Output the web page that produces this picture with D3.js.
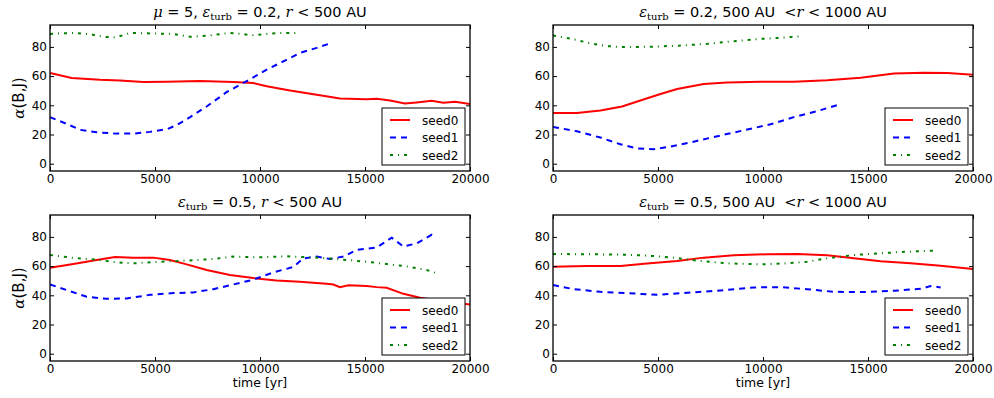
<!DOCTYPE html>
<html>
<head>
<meta charset="utf-8">
<script src="https://cdn.jsdelivr.net/npm/d3@7"></script>
<style>
  html, body { margin: 0; padding: 0; background: #fff; }
  svg { display: block; }
  text { font-family: "DejaVu Sans", sans-serif; fill: #000; white-space: pre; }
</style>
</head>
<body>
<svg id="chart" width="994" height="398"></svg>
<script>
// ---- data (time [yr], alpha(B,J) [deg]) ----
const seriesNames = ["seed0", "seed1", "seed2"];
const xTicks = [0, 5000, 10000, 15000, 20000];
const yTicks = [0, 20, 40, 60, 80];

// panel 1: mu=5, eps_turb=0.2, r<500 AU
const p1_seed0 = [[0,62.1],[1030,58.7],[2380,57.5],[3330,57],[4440,56],[5560,56.2],[7140,56.6],[8730,56],[9680,55.2],[10320,53],[11430,50.2],[12700,47.2],[13810,44.7],[15080,44.2],[15560,44.5],[16190,43.3],[16900,41.3],[17460,42],[18170,43.1],[18730,41.7],[19290,42.4],[20000,40.8]];
const p1_seed1 = [[0,31.9],[790,27.3],[1430,23.2],[2220,21.5],[3170,20.6],[3970,20.6],[4760,21.8],[5560,23.6],[6030,26.4],[6670,31.9],[7460,39.2],[8410,49],[9370,56.6],[10320,64.4],[11110,70.1],[11900,75.9],[12700,79.3],[13410,82.8]];
const p1_seed2 = [[0,88.9],[1110,89.6],[1900,88.7],[2540,86.9],[3170,86.6],[3810,89.6],[4920,89.2],[5870,88.9],[6670,86.9],[7460,87.6],[8570,89.6],[9680,88],[10790,89.4],[11750,89.6]];

// panel 2: eps_turb=0.2, 500 AU < r < 1000 AU
const p2_seed0 = [[0,34.8],[1140,34.8],[2260,36.4],[3290,39.2],[4160,43.3],[5120,47.7],[5910,51.1],[7180,54.6],[8290,55.7],[9880,56.2],[11470,56.2],[13060,57.1],[14650,58.9],[16240,61.7],[17670,62.3],[18780,62.1],[20000,61]];
const p2_seed1 = [[0,25.2],[1140,22.2],[2260,17.9],[3210,13.3],[4000,10.5],[4800,9.9],[5590,11.7],[6700,15.1],[7970,19.3],[9090,22.9],[10360,27],[11470,31.9],[12580,36],[13530,40.1]];
const p2_seed2 = [[0,87.8],[830,85.7],[1780,82.5],[2570,80.5],[3530,79.8],[4800,80.2],[6070,80.9],[7340,82.1],[8610,83.9],[9880,85.5],[10830,86.2],[11780,87.3]];

// panel 3: eps_turb=0.5, r<500 AU
const p3_seed0 = [[0,58.9],[1110,61.4],[2220,64.2],[3100,66.2],[3970,65.8],[4920,65.8],[5710,64.2],[6510,61.2],[7460,57.3],[8570,53.9],[9680,51.8],[10790,50.2],[11900,49.3],[13170,47.9],[13490,47.4],[13810,45.6],[14210,46.8],[15080,46.3],[15560,45.6],[16030,45.2],[16830,41],[17620,38.3],[18250,36.9],[18890,35.5],[20000,33.7]];
const p3_seed1 = [[0,47.4],[790,43.6],[1750,39],[2700,37.6],[3650,37.8],[4760,40.3],[5870,41.5],[6830,42],[7780,44.2],[8730,47.4],[9680,50.7],[10630,55.7],[11590,59.4],[12060,65.3],[12700,66.5],[13330,64.9],[13970,66.5],[14600,71.1],[15560,72.7],[16270,79.5],[16830,73.4],[17460,75.6],[18170,81.4],[18330,79.1]];
const p3_seed2 = [[0,67.6],[1110,65.6],[2220,64.4],[3170,62.6],[3970,61.9],[5240,63],[6510,63.7],[7780,64.9],[8730,66.5],[10000,66],[11270,66.7],[12540,66],[13810,64.6],[15080,63],[16030,61.4],[16980,59.8],[17940,57.3],[18330,55.5]];

// panel 4: eps_turb=0.5, 500 AU < r < 1000 AU
const p4_seed0 = [[0,59.6],[1620,60.1],[3210,60.1],[4480,61.7],[5910,63.5],[7180,65.8],[8610,67.4],[10200,68.1],[11630,68.3],[13060,67.4],[14330,65.3],[15600,63.3],[17030,61.9],[18460,60.3],[20000,58]];
const p4_seed1 = [[0,47],[980,44.2],[2260,42.4],[3530,41.5],[4960,40.3],[6390,41.7],[7970,43.3],[9560,45.4],[10830,45.6],[12100,44.2],[13370,42.4],[14650,42.2],[16240,43.1],[17510,44.5],[17980,46.3],[18460,45.4]];
const p4_seed2 = [[0,68.3],[1620,68.1],[3210,67.9],[4480,67.2],[5750,65.8],[7020,63.5],[8290,61.9],[9880,61.2],[11150,61.9],[12100,63],[13060,65.3],[14330,67.6],[15600,68.8],[16870,69.9],[18140,70.6]];

// ---- styles ----
const colors = ["#ff0000", "#0000ff", "#008000"];
const dashes = [null, "6,5", "3,5,1,5"];

// ---- layout ----
const panels = [
  { x0: 50,  x1: 470, y0: 25,  y1: 171, data: [p1_seed0, p1_seed1, p1_seed2], ylabel: true,  xlabel: false,
    title: [["μ","mi"],[" = 5, ",""],["ε","mi"],["turb","sub"],[" = 0.2, ",""],["r","mi"],[" < 500 AU",""]] },
  { x0: 553, x1: 973, y0: 25,  y1: 171, data: [p2_seed0, p2_seed1, p2_seed2], ylabel: false, xlabel: false,
    title: [["ε","mi"],["turb","sub"],[" = 0.2, 500 AU\u00a0\u00a0<",""],["r","mi"],[" < 1000 AU",""]] },
  { x0: 50,  x1: 470, y0: 215, y1: 361, data: [p3_seed0, p3_seed1, p3_seed2], ylabel: true,  xlabel: true,
    title: [["ε","mi"],["turb","sub"],[" = 0.5, ",""],["r","mi"],[" < 500 AU",""]] },
  { x0: 553, x1: 973, y0: 215, y1: 361, data: [p4_seed0, p4_seed1, p4_seed2], ylabel: false, xlabel: true,
    title: [["ε","mi"],["turb","sub"],[" = 0.5, 500 AU\u00a0\u00a0<",""],["r","mi"],[" < 1000 AU",""]] }
];

const svg = d3.select("#chart");

panels.forEach((p, i) => {
  const x = d3.scaleLinear().domain([0, 20000]).range([p.x0, p.x1]);
  const y = d3.scaleLinear().domain([-5, 95]).range([p.y1, p.y0]);
  const g = svg.append("g");

  const clipId = "clip" + i;
  svg.append("clipPath").attr("id", clipId).append("rect")
    .attr("x", p.x0).attr("y", p.y0).attr("width", p.x1 - p.x0).attr("height", p.y1 - p.y0);

  // lines
  const line = d3.line().x(d => x(d[0])).y(d => y(d[1]));
  p.data.forEach((s, k) => {
    g.append("path").datum(s)
      .attr("clip-path", `url(#${clipId})`)
      .attr("d", line)
      .attr("fill", "none")
      .attr("stroke", colors[k])
      .attr("stroke-width", 2)
      .attr("stroke-dasharray", dashes[k]);
  });

  // axes with inward ticks
  const fmt = d3.format("d");
  const bottom = d3.axisBottom(x).tickValues(xTicks).tickFormat(fmt).tickSizeInner(-4).tickSizeOuter(0).tickPadding(3);
  const top = d3.axisTop(x).tickValues(xTicks).tickFormat("").tickSizeInner(-4).tickSizeOuter(0);
  const left = d3.axisLeft(y).tickValues(yTicks).tickFormat(fmt).tickSizeInner(-4).tickSizeOuter(0).tickPadding(3);
  const right = d3.axisRight(y).tickValues(yTicks).tickFormat("").tickSizeInner(-4).tickSizeOuter(0);

  [[bottom, `translate(0,${p.y1})`], [top, `translate(0,${p.y0})`],
   [left, `translate(${p.x0},0)`], [right, `translate(${p.x1},0)`]].forEach(([ax, tr]) => {
    const a = g.append("g").attr("transform", tr).call(ax);
    a.select(".domain").remove();
    a.selectAll("line").attr("stroke", "#000").attr("stroke-width", 1);
    a.selectAll("text").attr("font-size", 12).attr("font-family", "DejaVu Sans").attr("fill", "#000");
  });

  // frame
  g.append("rect").attr("x", p.x0).attr("y", p.y0)
    .attr("width", p.x1 - p.x0).attr("height", p.y1 - p.y0)
    .attr("fill", "none").attr("stroke", "#000").attr("stroke-width", 1.3);

  // title
  const t = g.append("text")
    .attr("x", (p.x0 + p.x1) / 2).attr("y", p.y0 - 8)
    .attr("text-anchor", "middle").attr("font-size", 14.5);
  let prevKind = "";
  p.title.forEach(([s, kind]) => {
    const ts = t.append("tspan").text(s);
    if (kind === "mi") ts.attr("font-family", "DejaVu Serif").attr("font-style", "italic");
    if (kind === "sub") ts.attr("font-family", "DejaVu Serif").attr("font-size", 10).attr("dy", 3);
    if (kind !== "sub" && prevKind === "sub") ts.attr("dy", -3);
    prevKind = kind;
  });

  // y label
  if (p.ylabel) {
    const yl = g.append("text")
      .attr("transform", `translate(${p.x0 - 26},${(p.y0 + p.y1) / 2}) rotate(-90)`)
      .attr("text-anchor", "middle").attr("font-size", 15);
    yl.append("tspan").text("α").attr("font-family", "DejaVu Serif").attr("font-style", "italic");
    yl.append("tspan").text("(B,J)");
  }
  // x label
  if (p.xlabel) {
    g.append("text").attr("x", (p.x0 + p.x1) / 2).attr("y", p.y1 + 26)
      .attr("text-anchor", "middle").attr("font-size", 12.5).text("time [yr]");
  }

  // legend
  const lw = 83, lh = 57;
  const lx = p.x1 - 5 - lw, ly = p.y1 - 6 - lh;
  const lg = g.append("g");
  lg.append("rect").attr("x", lx).attr("y", ly).attr("width", lw).attr("height", lh)
    .attr("fill", "#fff").attr("stroke", "#000").attr("stroke-width", 1);
  seriesNames.forEach((name, k) => {
    const yy = ly + 12 + k * 17.5;
    lg.append("line").attr("x1", lx + 8).attr("x2", lx + 28).attr("y1", yy).attr("y2", yy)
      .attr("stroke", colors[k]).attr("stroke-width", 2).attr("stroke-dasharray", dashes[k]);
    lg.append("text").attr("x", lx + 40).attr("y", yy + 4.5).attr("font-size", 12).text(name);
  });
});
</script>
</body>
</html>
